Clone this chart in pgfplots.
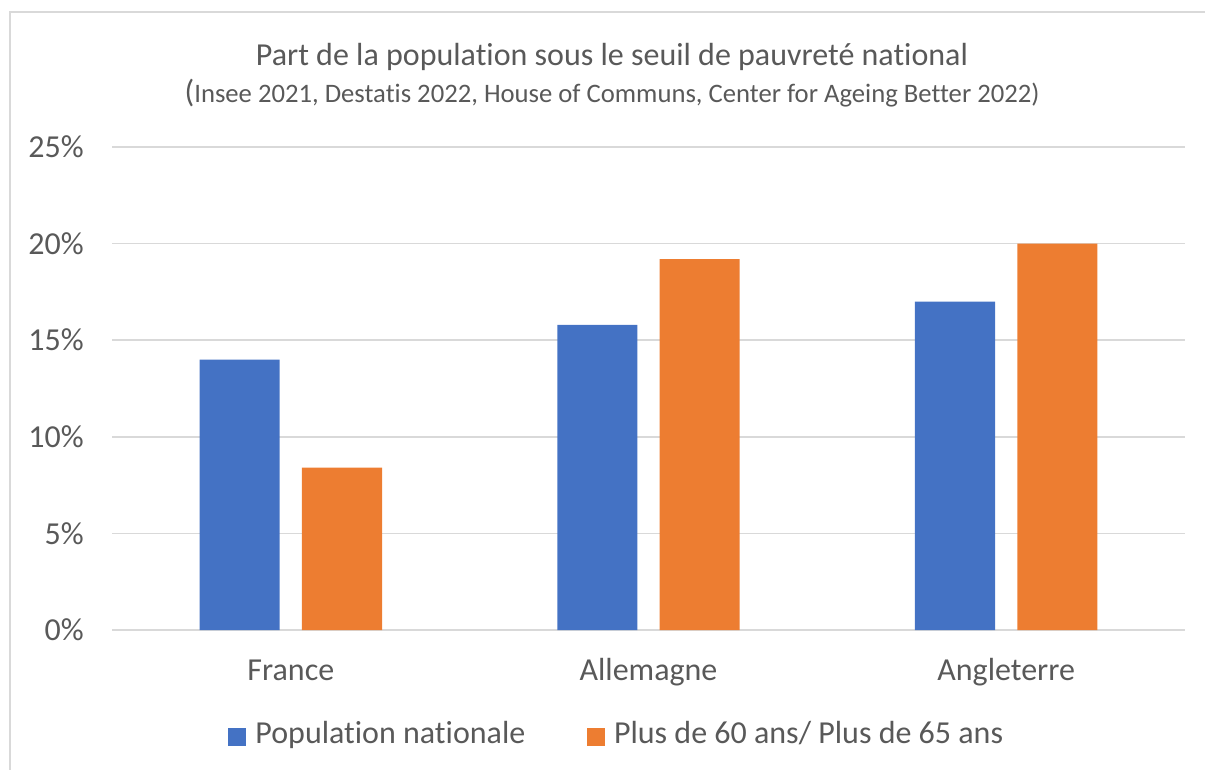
\documentclass[border=0pt]{standalone}
\usepackage{fontspec}
\setmainfont{Carlito}[Ligatures={NoCommon}]
\usepackage{pgfplots}
\pgfplotsset{compat=1.18}
\definecolor{cblue}{HTML}{4472C4}
\definecolor{corange}{HTML}{ED7D31}
\definecolor{gridc}{HTML}{D9D9D9}
\definecolor{txt}{HTML}{595959}
\begin{document}
\begin{tikzpicture}
\useasboundingbox (0,0) rectangle (903.75pt,-576.75pt);
\draw[gridc, line width=0.9pt] (7.5pt,-600pt) -- (7.5pt,-9pt) -- (920pt,-9pt);
\node[anchor=base, text=txt, font=\fontsize{24}{29}\selectfont, inner sep=0pt] at (459pt,-48.75pt) {Part de la population sous le seuil de pauvreté national};
\node[anchor=base, text=txt, font=\fontsize{20}{24}\selectfont, inner sep=0pt] at (459pt,-76.9pt) {{\fontsize{24}{29}\selectfont(}Insee 2021, Destatis 2022, House of Communs, Center for Ageing Better 2022)};
\begin{axis}[
  at={(84pt,-472.5pt)}, anchor=south west,
  width=804.75pt, height=362.25pt, scale only axis,
  xmin=-0.5, xmax=2.5, ymin=0, ymax=25,
  ybar=0pt, bar width=0.224,
  xtick={0,1,2}, xticklabels={France,Allemagne,Angleterre},
  ytick={0,5,10,15,20,25},
  yticklabel={\pgfmathprintnumber{\tick}\%},
  /pgf/number format/assume math mode=true,
  axis line style={draw=none},
  major tick length=0pt,
  ymajorgrids, grid style={gridc, line width=1.1pt},
  tick label style={font=\fontsize{24}{29}\selectfont, text=txt, inner sep=0pt},
  yticklabel style={xshift=-21pt},
  xticklabel style={anchor=base, yshift=-38pt},
  legend style={at={(0.4706,-0.215)}, anchor=center, draw=none, fill=none,
    font=\fontsize{24}{29}\selectfont, text=txt, legend columns=2,
    /tikz/every even column/.append style={column sep=44pt}},
  legend image code/.code={\fill[#1] (0pt,-8.75pt) rectangle (13.5pt,4.75pt); \path (18.5pt,0pt);},
]
\addplot[fill=cblue, draw=none, bar shift=-0.143] coordinates {(0,14) (1,15.8) (2,17)};
\addplot[fill=corange, draw=none, bar shift=0.143] coordinates {(0,8.4) (1,19.2) (2,20)};
\legend{Population nationale, Plus de 60 ans/ Plus de 65 ans}
\end{axis}
\end{tikzpicture}
\end{document}
